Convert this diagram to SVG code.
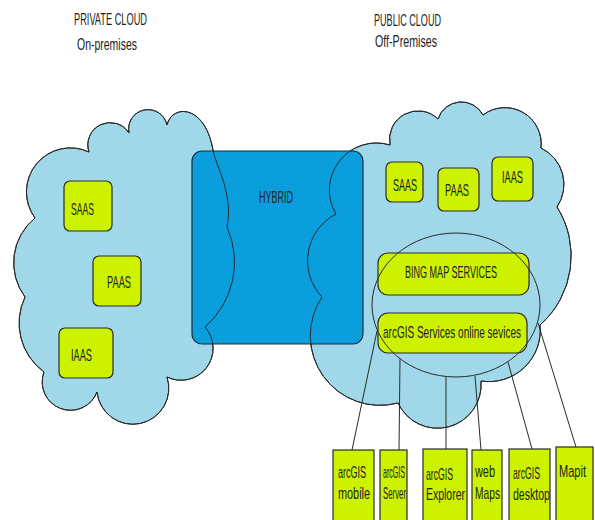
<svg xmlns="http://www.w3.org/2000/svg" xmlns:xlink="http://www.w3.org/1999/xlink" width="595" height="520" viewBox="0 0 595 520">
<style>
  text{font-family:"Liberation Sans",Arial,sans-serif;fill:#222;font-size:10px;}
  .cloud{fill:#a0d8ea;stroke:#2a2a2a;stroke-width:1;}
  .edge{fill:none;stroke:#2a2a2a;stroke-width:1;}
  .hyb{fill:#0b9edd;stroke:#1c2a3a;stroke-width:1.2;}
  .box{fill:#cdf200;stroke:#2a2a2a;stroke-width:1.2;}
  .conn line{stroke:#2a2a2a;stroke-width:1;}
</style>
<defs>
  <path id="lc" d="M35,218 A44 44 0 0 1 89,152 A22.3 22.3 0 0 1 129,133 A19.4 19.4 0 0 1 167,125 C172,104 205,104 213,150 C215.5,165 234,195 227,227 A86 86 0 0 1 205,327 A32 32 0 0 1 167,377 A36 36 0 1 1 97,392 A28.3 28.3 0 0 1 44,372 A60.5 60.5 0 0 1 25,297 A57.5 57.5 0 0 1 35,218 Z"/>
  <path id="rc" d="M336,214 A47 47 0 0 1 390,145 A28.6 28.6 0 0 1 438,119 A24.5 24.5 0 0 1 483,115 A36.3 36.3 0 0 1 541,148 A40.3 40.3 0 0 1 557,207 A91.7 91.7 0 0 1 540,325 A51.3 51.3 0 0 1 481,381 A43.6 43.6 0 0 1 398,403 A69.7 69.7 0 0 1 322,297 A52.7 52.7 0 0 1 336,214 Z"/>
</defs>
<rect width="595" height="520" fill="#fff"/>

<g id="titles">
  <text transform="matrix(1,0,0,1.6,74,24.5)" textLength="73" lengthAdjust="spacingAndGlyphs">PRIVATE CLOUD</text>
  <text transform="matrix(1,0,0,1.6,77,50)" textLength="60" lengthAdjust="spacingAndGlyphs">On-premises</text>
  <text transform="matrix(1,0,0,1.6,374,26)" textLength="67" lengthAdjust="spacingAndGlyphs">PUBLIC CLOUD</text>
  <text transform="matrix(1,0,0,1.6,375,46.5)" textLength="62" lengthAdjust="spacingAndGlyphs">Off-Premises</text>
</g>

<g id="private-cloud"><use xlink:href="#lc" href="#lc" class="cloud"/></g>
<g id="public-cloud"><use xlink:href="#rc" href="#rc" class="cloud"/></g>

<g id="hybrid">
  <rect class="hyb" x="192" y="151" width="171" height="193" rx="10"/>
  <use xlink:href="#lc" href="#lc" class="edge"/>
  <use xlink:href="#rc" href="#rc" class="edge"/>
  <text transform="matrix(1,0,0,1.6,259,203)" textLength="34" lengthAdjust="spacingAndGlyphs">HYBRID</text>
</g>

<g id="saas-private"><rect class="box" x="64" y="181" width="48" height="50" rx="6"/><text transform="matrix(1,0,0,1.6,71,215)" textLength="23" lengthAdjust="spacingAndGlyphs">SAAS</text></g>
<g id="paas-private"><rect class="box" x="93" y="256" width="48" height="50" rx="6"/><text transform="matrix(1,0,0,1.6,107,288)" textLength="24" lengthAdjust="spacingAndGlyphs">PAAS</text></g>
<g id="iaas-private"><rect class="box" x="59" y="328" width="54" height="50" rx="6"/><text transform="matrix(1,0,0,1.6,71,361)" textLength="21" lengthAdjust="spacingAndGlyphs">IAAS</text></g>

<g id="saas-public"><rect class="box" x="386" y="162" width="37" height="40" rx="6"/><text transform="matrix(1,0,0,1.6,393,191)" textLength="24" lengthAdjust="spacingAndGlyphs">SAAS</text></g>
<g id="paas-public"><rect class="box" x="438" y="168" width="41" height="43" rx="6"/><text transform="matrix(1,0,0,1.6,445,196)" textLength="24" lengthAdjust="spacingAndGlyphs">PAAS</text></g>
<g id="iaas-public"><rect class="box" x="492" y="157" width="41" height="44" rx="6"/><text transform="matrix(1,0,0,1.6,502,183)" textLength="21" lengthAdjust="spacingAndGlyphs">IAAS</text></g>

<g id="bing"><rect class="box" x="378" y="253" width="151" height="42" rx="10"/><text transform="matrix(1,0,0,1.6,405,278)" textLength="92" lengthAdjust="spacingAndGlyphs">BING MAP SERVICES</text></g>
<g id="arcgis-services"><rect class="box" x="378" y="313" width="149" height="40" rx="10"/><text transform="matrix(1,0,0,1.6,383,337.5)" textLength="138" lengthAdjust="spacingAndGlyphs">arcGIS Services online sevices</text></g>

<g id="services-ellipse"><ellipse cx="456" cy="305" rx="84" ry="72" fill="none" stroke="#2a2a2a" stroke-width="1"/></g>

<g id="connectors" class="conn">
  <line x1="377" y1="331" x2="352" y2="450"/>
  <line x1="400" y1="359" x2="399" y2="450"/>
  <line x1="446" y1="377" x2="446" y2="449"/>
  <line x1="475" y1="376" x2="481" y2="450"/>
  <line x1="508" y1="362" x2="532" y2="449"/>
  <line x1="538" y1="323" x2="576" y2="447"/>
</g>

<g id="arcgis-mobile"><rect class="box" x="333" y="450" width="41" height="75"/><text transform="matrix(1,0,0,1.6,338,478)" textLength="28" lengthAdjust="spacingAndGlyphs">arcGIS</text><text transform="matrix(1,0,0,1.6,338,499)" textLength="32" lengthAdjust="spacingAndGlyphs">mobile</text></g>
<g id="arcgis-server"><rect class="box" x="380" y="450" width="27" height="75"/><text transform="matrix(1,0,0,1.6,383,478)" textLength="22" lengthAdjust="spacingAndGlyphs">arcGIS</text><text transform="matrix(1,0,0,1.6,383,499)" textLength="23" lengthAdjust="spacingAndGlyphs">Server</text></g>
<g id="arcgis-explorer"><rect class="box" x="423" y="449" width="44" height="76"/><text transform="matrix(1,0,0,1.6,426,480)" textLength="27" lengthAdjust="spacingAndGlyphs">arcGIS</text><text transform="matrix(1,0,0,1.6,426,500)" textLength="39" lengthAdjust="spacingAndGlyphs">Explorer</text></g>
<g id="web-maps"><rect class="box" x="472" y="450" width="30" height="75"/><text transform="matrix(1,0,0,1.6,475,477)" textLength="20" lengthAdjust="spacingAndGlyphs">web</text><text transform="matrix(1,0,0,1.6,475,499)" textLength="25" lengthAdjust="spacingAndGlyphs">Maps</text></g>
<g id="arcgis-desktop"><rect class="box" x="509" y="449" width="41" height="76"/><text transform="matrix(1,0,0,1.6,513,479)" textLength="27" lengthAdjust="spacingAndGlyphs">arcGIS</text><text transform="matrix(1,0,0,1.6,513,500)" textLength="37" lengthAdjust="spacingAndGlyphs">desktop</text></g>
<g id="mapit"><rect class="box" x="556" y="447" width="37" height="78"/><text transform="matrix(1,0,0,1.6,559,477)" textLength="27" lengthAdjust="spacingAndGlyphs">Mapit</text></g>
</svg>
